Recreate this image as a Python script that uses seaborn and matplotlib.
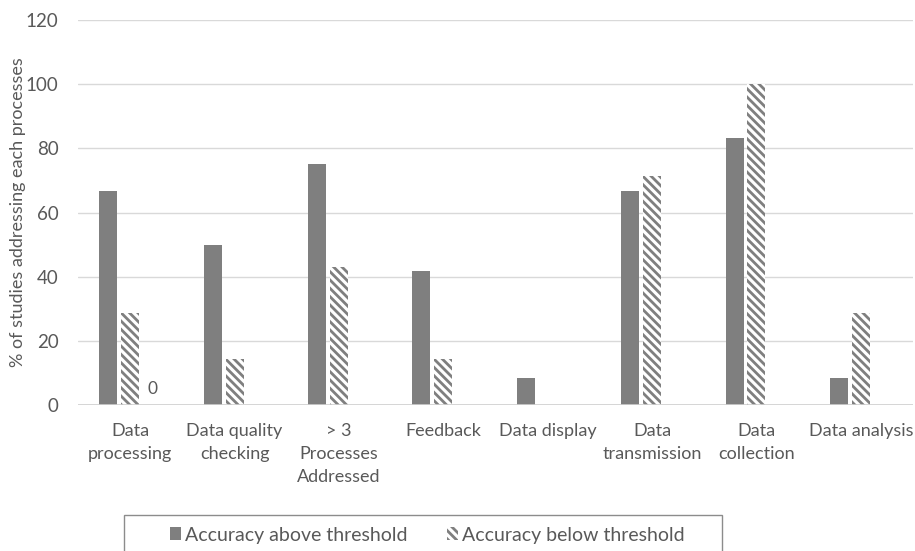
import pandas as pd
import matplotlib
matplotlib.use('Agg')
import matplotlib.pyplot as plt
import seaborn as sns
from matplotlib.patches import Rectangle

categories = ['Data\nprocessing', 'Data quality\nchecking', '> 3\nProcesses\nAddressed', 'Feedback',
              'Data display', 'Data\ntransmission', 'Data\ncollection', 'Data analysis']
above = [66.7, 50.0, 75.0, 41.7, 8.3, 66.7, 83.3, 8.3]
below = [28.6, 14.3, 42.9, 14.3, 0.0, 71.4, 100.0, 28.6]
# hidden third series from the original chart, only its "0" label shows
hidden = [0, 0, 0, 0, 0, 0, 0, 0]
hidden_labels = ['0', '', '', '', '', '', '', '']
series_names = ['Accuracy above threshold', 'Accuracy below threshold', 'hidden']

sns.set_theme(style='white')
plt.rcParams['font.family'] = ['Lato', 'DejaVu Sans']
plt.rcParams['hatch.linewidth'] = 2.0

text_col = '#595959'
bar_col = '#7f7f7f'
hatch = '\\\\\\\\'

rows = []
for name, vals in zip(series_names, [above, below, hidden]):
    for cat, v in zip(categories, vals):
        rows.append({'Category': cat, 'Series': name, 'Value': v})
df = pd.DataFrame(rows)

fig = plt.figure(figsize=(9.15, 5.51), dpi=100)
ax = fig.add_axes([78 / 915, 1 - 405 / 551, (913 - 78) / 915, (405 - 20) / 551])

sns.barplot(data=df, x='Category', y='Value', hue='Series', hue_order=series_names,
            palette={series_names[0]: bar_col, series_names[1]: 'white', series_names[2]: 'white'},
            width=0.63, gap=0.18, ax=ax, legend=False, linewidth=0)

for p in ax.containers[1]:
    p.set_hatch(hatch)
    p.set_edgecolor(bar_col)
    p.set_linewidth(0)

ax.bar_label(ax.containers[2], labels=hidden_labels, padding=6, color=text_col, fontsize=12.5)

ax.set_ylim(0, 120)
ax.set_yticks(range(0, 121, 20))
ax.grid(axis='y', color='#d9d9d9', linewidth=1)
ax.set_axisbelow(True)
for s in ax.spines.values():
    s.set_visible(False)
ax.axhline(0, color='#d0d0d0', linewidth=1.2)

ax.tick_params(axis='both', length=0, colors=text_col)
ax.tick_params(axis='x', pad=13, labelsize=13)
ax.tick_params(axis='y', pad=14, labelsize=13.5)
for t in ax.get_xticklabels():
    t.set_linespacing(1.55)
ax.set_xlabel('')
ax.set_ylabel('% of studies addressing each processes', color=text_col, fontsize=13)
ax.yaxis.set_label_coords(-0.062, 0.502)

# legend box
fig.patches.append(Rectangle((124 / 915, -0.1), (722 - 124) / 915, 0.1 + 1 - 515 / 551,
                             transform=fig.transFigure, facecolor='none',
                             edgecolor='#8c8c8c', linewidth=1))
handles = [plt.Rectangle((0, 0), 1, 1, facecolor=bar_col, linewidth=0),
           plt.Rectangle((0, 0), 1, 1, facecolor='white', edgecolor=bar_col, hatch=hatch, linewidth=0)]
fig.legend(handles, series_names[:2], loc='center left', bbox_to_anchor=(160 / 915, 1 - 535 / 551),
           ncol=2, frameon=False, borderpad=0, fontsize=14, labelcolor=text_col,
           handlelength=0.6, handleheight=0.6, handletextpad=0.2, columnspacing=2.0)

fig.savefig('out.png', dpi=100)
